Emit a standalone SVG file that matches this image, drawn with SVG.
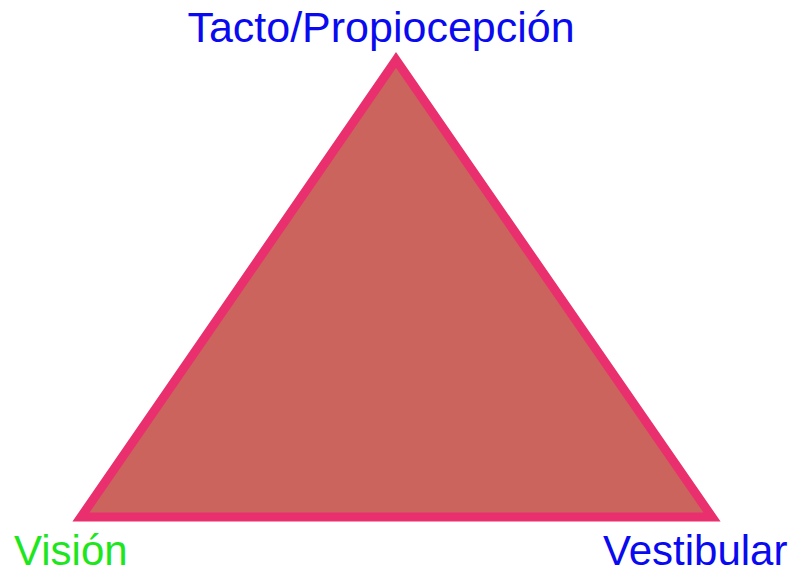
<svg xmlns="http://www.w3.org/2000/svg" width="796" height="574" viewBox="0 0 796 574">
<style>
.lbl{font-family:"Liberation Sans",Arial,sans-serif;font-size:42px}
.blue{fill:#0a0af0}
.green{fill:#1ee61e}
</style>
<rect width="796" height="574" fill="#ffffff"/>
<g id="triangle">
<polygon points="396,60 81,517 712,517" fill="#cb645c" stroke="#ea2f6e" stroke-width="9" stroke-linejoin="miter"/>
</g>
<g id="tacto"><text class="lbl blue" x="381" y="42" text-anchor="middle" style="font-size:43px">Tacto/Propiocepción</text></g>
<g id="vision"><text class="lbl green" x="14" y="565">Visión</text></g>
<g id="vestibular"><text class="lbl blue" x="603" y="565">Vestibular</text></g>
<g id="connectors"></g>
</svg>
